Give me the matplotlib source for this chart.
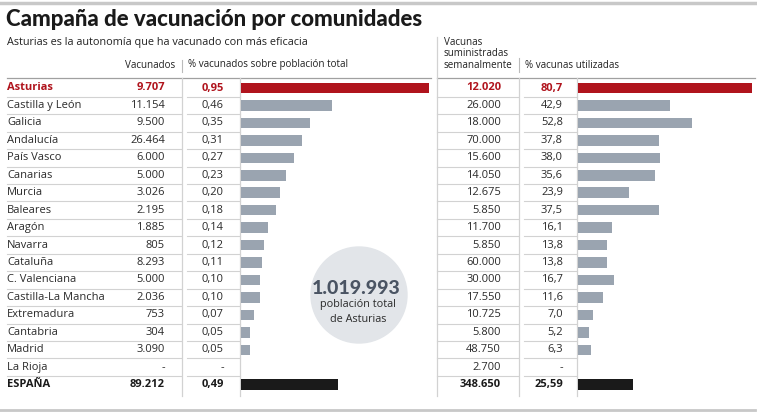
import matplotlib.pyplot as plt
from matplotlib.patches import Circle

comunidades = ["Asturias", "Castilla y León", "Galicia", "Andalucía", "País Vasco",
               "Canarias", "Murcia", "Baleares", "Aragón", "Navarra", "Cataluña",
               "C. Valenciana", "Castilla-La Mancha", "Extremadura", "Cantabria",
               "Madrid", "La Rioja", "ESPAÑA"]
vacunados = [9707, 11154, 9500, 26464, 6000, 5000, 3026, 2195, 1885, 805, 8293,
             5000, 2036, 753, 304, 3090, None, 89212]
pct_poblacion = [0.95, 0.46, 0.35, 0.31, 0.27, 0.23, 0.20, 0.18, 0.14, 0.12, 0.11,
                 0.10, 0.10, 0.07, 0.05, 0.05, None, 0.49]
suministradas = [12020, 26000, 18000, 70000, 15600, 14050, 12675, 5850, 11700, 5850,
                 60000, 30000, 17550, 10725, 5800, 48750, 2700, 348650]
pct_utilizadas = [80.7, 42.9, 52.8, 37.8, 38.0, 35.6, 23.9, 37.5, 16.1, 13.8, 13.8,
                  16.7, 11.6, 7.0, 5.2, 6.3, None, 25.59]
poblacion_asturias = 1019993

RED = "#b0141d"
GRAY = "#9aa4b0"
BLACK = "#1a1a1a"
LINE = "#d2d2d2"
FONT = "Open Sans"

plt.rcParams['font.family'] = [FONT, 'DejaVu Sans']

W, H = 757, 416
fig = plt.figure(figsize=(W / 100, H / 100), dpi=100)
ax = fig.add_axes([0, 0, 1, 1])
ax.set_xlim(0, W)
ax.set_ylim(H, 0)
ax.axis('off')


def miles(v):
    if v is None:
        return "-"
    return f"{v:,}".replace(",", ".")


def decimal(v, nd):
    if v is None:
        return "-"
    if round(v, nd) != v:
        nd = 2
    return f"{v:.{nd}f}".replace(".", ",")


y0, step = 88, 17.45
ys = [y0 + i * step for i in range(len(comunidades))]
n = len(comunidades)

# rules
ax.plot([0, 755], [3, 3], color="#c8c8c8", lw=2.5)
ax.plot([0, 755], [410, 410], color="#c8c8c8", lw=2)

ax.text(6, 19, "Campaña de vacunación por comunidades", fontsize=16, fontweight='black',
        family=['Lato', 'DejaVu Sans'], color="#1a1a1a", va='center', ha='left')
ax.text(7, 42, "Asturias es la autonomía que ha vacunado con más eficacia", fontsize=7.8,
        color="#222222", va='center', ha='left')

# headers
ax.text(175, 65, "Vacunados", fontsize=7.1, color="#222222", ha='right', va='center')
ax.text(188, 65, "% vacunados sobre población total", fontsize=7.1, color="#222222",
        ha='left', va='center')
ax.text(444, 70.5, "Vacunas\nsuministradas\nsemanalmente", fontsize=7.1, color="#222222",
        ha='left', va='bottom', linespacing=1.05)
ax.text(525, 65, "% vacunas utilizadas", fontsize=7.1, color="#222222", ha='left',
        va='center')

# header separators
ax.plot([7, 431], [78, 78], color="#a0a0a0", lw=0.9)
ax.plot([437, 755], [78, 78], color="#a0a0a0", lw=0.9)
ax.plot([182, 182], [60, 72], color="#bbbbbb", lw=0.8)
ax.plot([519, 519], [58, 72], color="#bbbbbb", lw=0.8)

# vertical grid lines
ax.plot([182, 182], [78, 396], color=LINE, lw=0.9)
ax.plot([240, 240], [78, 396], color=LINE, lw=0.9)
ax.plot([437, 437], [37, 396], color=LINE, lw=0.9)
ax.plot([519, 519], [78, 396], color=LINE, lw=0.9)
ax.plot([577, 577], [78, 396], color=LINE, lw=0.9)

# row separators
for y in ys[:-1]:
    yl = y + step / 2
    ax.plot([7, 181], [yl, yl], color=LINE, lw=0.8)
    ax.plot([187, 240], [yl, yl], color=LINE, lw=0.8)
    ax.plot([437, 518], [yl, yl], color=LINE, lw=0.8)
    ax.plot([524, 577], [yl, yl], color=LINE, lw=0.8)

# table text
for i, name in enumerate(comunidades):
    y = ys[i]
    if i == 0:
        col, fw = RED, 'bold'
    elif i == n - 1:
        col, fw = BLACK, 'bold'
    else:
        col, fw = "#2a2a2a", 'normal'
    kw = dict(fontsize=8, color=col, fontweight=fw, va='center')
    ax.text(7, y, name, ha='left', **kw)
    ax.text(165, y, miles(vacunados[i]), ha='right', **kw)
    ax.text(224, y, decimal(pct_poblacion[i], 2), ha='right', **kw)
    ax.text(501, y, miles(suministradas[i]), ha='right', **kw)
    ax.text(563, y, decimal(pct_utilizadas[i], 1), ha='right', **kw)

bar_colors = [RED] + [GRAY] * (n - 2) + [BLACK]

# left bars
axl = fig.add_axes([240.5 / W, 0, 190 / W, 1])
axl.set_ylim(H, 0)
axl.set_xlim(0, 190 / 198)
axl.axis('off')
vals = [v if v is not None else 0 for v in pct_poblacion]
axl.barh(ys, vals, height=10.5, color=bar_colors)

# right bars
axr = fig.add_axes([577.5 / W, 0, 178 / W, 1])
axr.set_ylim(H, 0)
axr.set_xlim(0, 178 / 2.165)
axr.axis('off')
vals = [v if v is not None else 0 for v in pct_utilizadas]
axr.barh(ys, vals, height=10.5, color=bar_colors)

# circle callout
ax.add_patch(Circle((359, 295), 48, color="#e2e5e9", zorder=0))
ax.text(356, 288, miles(poblacion_asturias), fontsize=14, fontweight='black',
        family=['Lato', 'DejaVu Sans'], color="#4a5463", ha='center', va='center')
ax.text(358, 305, "población total", fontsize=7.8, color="#2a2a2a", ha='center', va='center')
ax.text(358, 320, "de Asturias", fontsize=7.8, color="#2a2a2a", ha='center', va='center')

fig.savefig("out.png", dpi=100)
